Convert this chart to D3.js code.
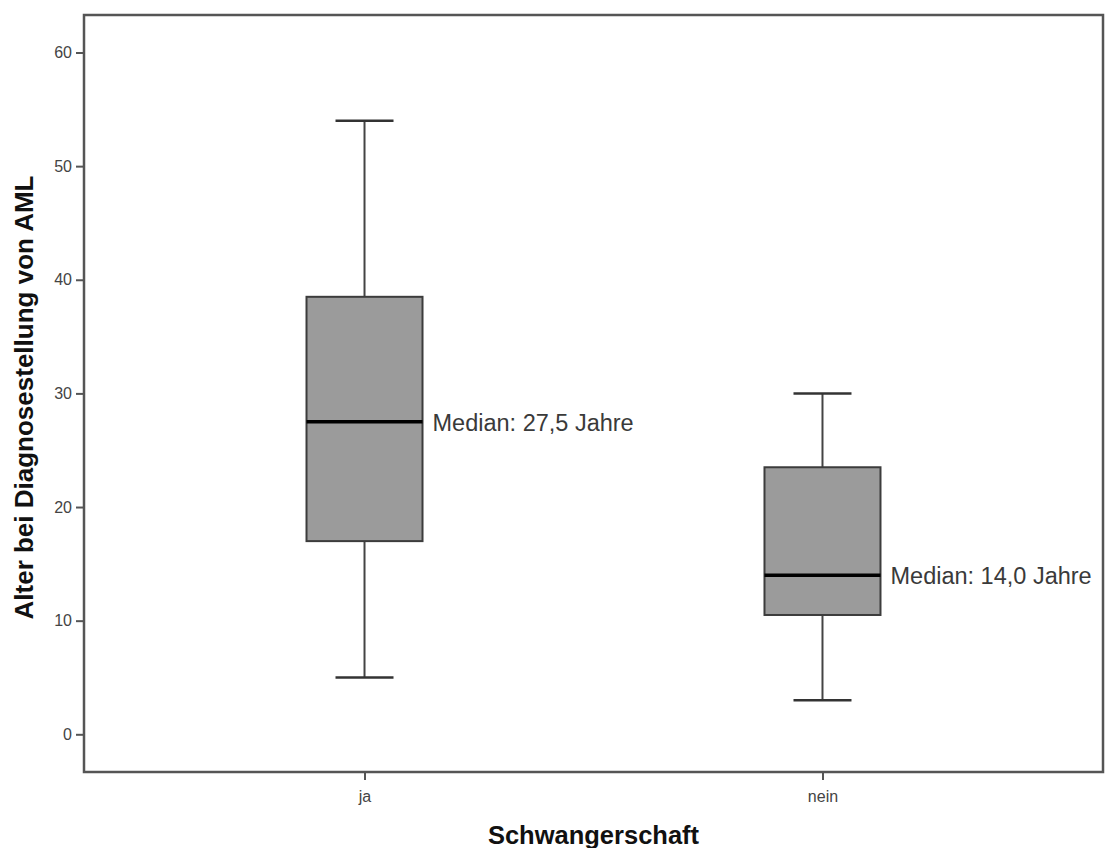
<!DOCTYPE html>
<meta charset="utf-8">
<style>
body { margin: 0; background: #fff; }
svg { display: block; }
.axis text { font-family: "Liberation Sans", Arial, sans-serif; fill: #444; }
.title { font-family: "Liberation Sans", Arial, sans-serif; font-weight: bold; fill: #111; }
.median-label { font-family: "Liberation Sans", Arial, sans-serif; fill: #3a3a3a; }
</style>
<svg width="1108" height="848"></svg>
<script src="https://d3js.org/d3.v7.min.js"></script>
<script>

// values
var categories = ["ja", "nein"];
var whiskerLow = [5, 3];
var q1 = [17, 10.5];
var medians = [27.5, 14.0];
var q3 = [38.5, 23.5];
var whiskerHigh = [54, 30];
var medianLabels = ["Median: 27,5 Jahre", "Median: 14,0 Jahre"];
var yTicks = [0, 10, 20, 30, 40, 50, 60];

var svg = d3.select("svg"),
  frame = {left: 84, right: 1103, top: 15, bottom: 772},
  boxWidth = 116,
  capWidth = 58;

var x = d3.scalePoint()
  .domain(categories)
  .range([frame.left, frame.right])
  .padding(0.6125);

var y = d3.scaleLinear()
  .domain([0, 60])
  .range([734.3, 52.5]);

var boxes = categories.map(function(c, i) {
  return {cat: c, lo: whiskerLow[i], q1: q1[i], med: medians[i], q3: q3[i], hi: whiskerHigh[i], label: medianLabels[i]};
});

// y axis
var yAxis = svg.append("g")
  .attr("class", "axis")
  .attr("transform", "translate(" + frame.left + ",0)")
  .call(d3.axisLeft(y).tickValues(yTicks).tickSize(8).tickPadding(4).tickFormat(d3.format("d")));
yAxis.select(".domain").remove();
yAxis.selectAll("line").attr("stroke", "#555").attr("stroke-width", 2);
yAxis.selectAll("text").style("font-size", "16px");

// x axis
var xAxis = svg.append("g")
  .attr("class", "axis")
  .attr("transform", "translate(0," + frame.bottom + ")")
  .call(d3.axisBottom(x).tickSize(8).tickPadding(11));
xAxis.select(".domain").remove();
xAxis.selectAll("line").attr("stroke", "#555").attr("stroke-width", 2);
xAxis.selectAll("text").style("font-size", "16px");

var g = svg.append("g");

var box = g.selectAll(".box")
  .data(boxes)
  .enter().append("g")
  .attr("class", "box");

// whiskers
box.append("line")
  .attr("x1", function(d) { return x(d.cat); })
  .attr("x2", function(d) { return x(d.cat); })
  .attr("y1", function(d) { return y(d.hi); })
  .attr("y2", function(d) { return y(d.q3); })
  .attr("stroke", "#444").attr("stroke-width", 2);

box.append("line")
  .attr("x1", function(d) { return x(d.cat); })
  .attr("x2", function(d) { return x(d.cat); })
  .attr("y1", function(d) { return y(d.q1); })
  .attr("y2", function(d) { return y(d.lo); })
  .attr("stroke", "#444").attr("stroke-width", 2);

["hi", "lo"].forEach(function(k) {
  box.append("line")
    .attr("x1", function(d) { return x(d.cat) - capWidth / 2; })
    .attr("x2", function(d) { return x(d.cat) + capWidth / 2; })
    .attr("y1", function(d) { return y(d[k]); })
    .attr("y2", function(d) { return y(d[k]); })
    .attr("stroke", "#333").attr("stroke-width", 2.5);
});

// the box itself
box.append("rect")
  .attr("x", function(d) { return x(d.cat) - boxWidth / 2; })
  .attr("width", boxWidth)
  .attr("y", function(d) { return y(d.q3); })
  .attr("height", function(d) { return y(d.q1) - y(d.q3); })
  .attr("fill", "#9b9b9b")
  .attr("stroke", "#3c3c3c")
  .attr("stroke-width", 2);

// median
box.append("line")
  .attr("x1", function(d) { return x(d.cat) - boxWidth / 2; })
  .attr("x2", function(d) { return x(d.cat) + boxWidth / 2; })
  .attr("y1", function(d) { return y(d.med); })
  .attr("y2", function(d) { return y(d.med); })
  .attr("stroke", "#000").attr("stroke-width", 3.5);

box.append("text")
  .attr("class", "median-label")
  .attr("x", function(d) { return x(d.cat) + boxWidth / 2 + 10; })
  .attr("y", function(d) { return y(d.med) + 9; })
  .style("font-size", "23.5px")
  .text(function(d) { return d.label; });

// frame
svg.append("rect")
  .attr("x", frame.left)
  .attr("y", frame.top)
  .attr("width", frame.right - frame.left)
  .attr("height", frame.bottom - frame.top)
  .attr("fill", "none")
  .attr("stroke", "#555")
  .attr("stroke-width", 2.5);

// titles
svg.append("text")
  .attr("class", "title")
  .attr("x", (frame.left + frame.right) / 2)
  .attr("y", 844)
  .attr("text-anchor", "middle")
  .style("font-size", "25.5px")
  .text("Schwangerschaft");

svg.append("text")
  .attr("class", "title")
  .attr("transform", "translate(33," + ((frame.top + frame.bottom) / 2 + 4) + ") rotate(-90)")
  .attr("text-anchor", "middle")
  .style("font-size", "26px")
  .text("Alter bei Diagnosestellung von AML");

</script>
